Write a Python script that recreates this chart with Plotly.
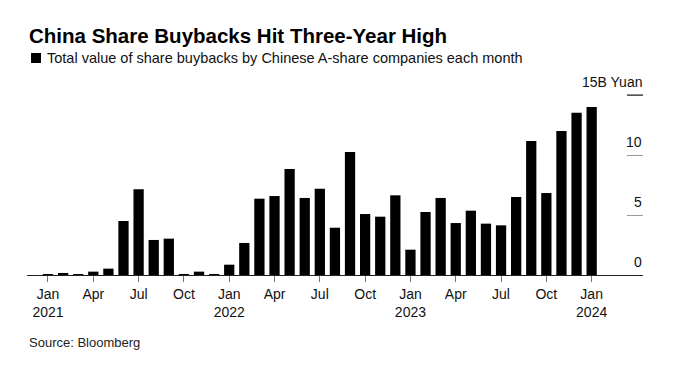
import pandas as pd
import plotly.graph_objects as go

# ---- data ----
months = [d.strftime("%Y-%m") for d in pd.date_range("2021-01-01", periods=37, freq="MS")]
buybacks_bn_yuan = [
    0.05, 0.12, 0.05, 0.28, 0.53, 4.5, 7.14, 2.92, 3.03, 0.03, 0.28, 0.03,
    0.86, 2.67, 6.36, 6.58, 8.83, 6.42, 7.19, 3.94, 10.25, 5.08, 4.86, 6.64,
    2.11, 5.25, 6.42, 4.33, 5.36, 4.28, 4.14, 6.5, 11.17, 6.83, 12.0, 13.53,
    14.0,
]
x_tick_vals = months[::3]
x_tick_text = ["Jan<br>2021", "Apr", "Jul", "Oct",
               "Jan<br>2022", "Apr", "Jul", "Oct",
               "Jan<br>2023", "Apr", "Jul", "Oct",
               "Jan<br>2024"]
y_tick_vals = [0, 5, 10, 15]
y_tick_text = ["0", "5", "10", "15B Yuan"]

title = "China Share Buybacks Hit Three-Year High"
subtitle = "Total value of share buybacks by Chinese A-share companies each month"
source = "Source: Bloomberg"

FONT = "Liberation Sans, Arial, sans-serif"
W, H = 683, 372
ML, MR, MT, MB = 27, 40, 65, 97

fig = go.Figure(go.Bar(
    x=months, y=buybacks_bn_yuan,
    marker=dict(color="#000000", line=dict(width=0)),
    hoverinfo="x+y",
))

fig.update_layout(
    width=W, height=H,
    margin=dict(l=ML, r=MR, t=MT, b=MB, pad=0),
    paper_bgcolor="white", plot_bgcolor="white",
    bargap=0.32,
    showlegend=False,
    font=dict(family=FONT, size=14, color="#111"),
    xaxis=dict(
        type="category",
        range=[-1.39, 39.4],
        tickmode="array", tickvals=x_tick_vals, ticktext=x_tick_text,
        ticks="outside", ticklen=6, tickcolor="#777", tickwidth=1,
        showline=True, linecolor="#222", linewidth=1,
        showgrid=False, zeroline=False,
        tickfont=dict(size=14, color="#111"),
        fixedrange=True,
    ),
    yaxis=dict(
        side="right",
        range=[0, 210 / 12],
        tickmode="array", tickvals=y_tick_vals,
        showticklabels=False,
        ticks="inside", ticklen=16, tickcolor="#999", tickwidth=1,
        showline=False, showgrid=False, zeroline=False,
        fixedrange=True,
    ),
)

# y-axis labels, placed above each reference tick on the right
for v, t in zip(y_tick_vals, y_tick_text):
    fig.add_annotation(text=t, xref="paper", yref="y", x=1, y=v,
                       xanchor="right", yanchor="middle", yshift=13.5,
                       showarrow=False, borderpad=0,
                       font=dict(size=14, color="#111", family=FONT))

pw = W - ML - MR
ph = H - MT - MB

def px(x):
    return (x - ML) / pw

def py(y):
    return (H - MB - y) / ph

fig.add_annotation(text="<b>" + title + "</b>", xref="paper", yref="paper",
                   x=px(27), y=py(35), xanchor="left", yanchor="middle",
                   showarrow=False, font=dict(size=20.5, color="#000", family=FONT))
fig.add_annotation(text=subtitle, xref="paper", yref="paper",
                   x=px(45), y=py(58), xanchor="left", yanchor="middle",
                   showarrow=False, font=dict(size=14.5, color="#111", family=FONT))
fig.add_shape(type="rect", xref="paper", yref="paper",
              x0=px(31), x1=px(41), y0=py(63), y1=py(53),
              fillcolor="#000", line=dict(width=0))
fig.add_annotation(text=source, xref="paper", yref="paper",
                   x=px(27), y=py(342), xanchor="left", yanchor="middle",
                   showarrow=False, font=dict(size=13, color="#222", family=FONT))
# darker top reference tick
fig.add_shape(type="line", xref="paper", yref="y", x0=px(627), x1=1, y0=15, y1=15,
              line=dict(color="#111", width=1))

fig.write_html("out.html", config={"displayModeBar": False},
               post_script="document.body.style.margin='0';document.body.style.overflow='hidden';")
